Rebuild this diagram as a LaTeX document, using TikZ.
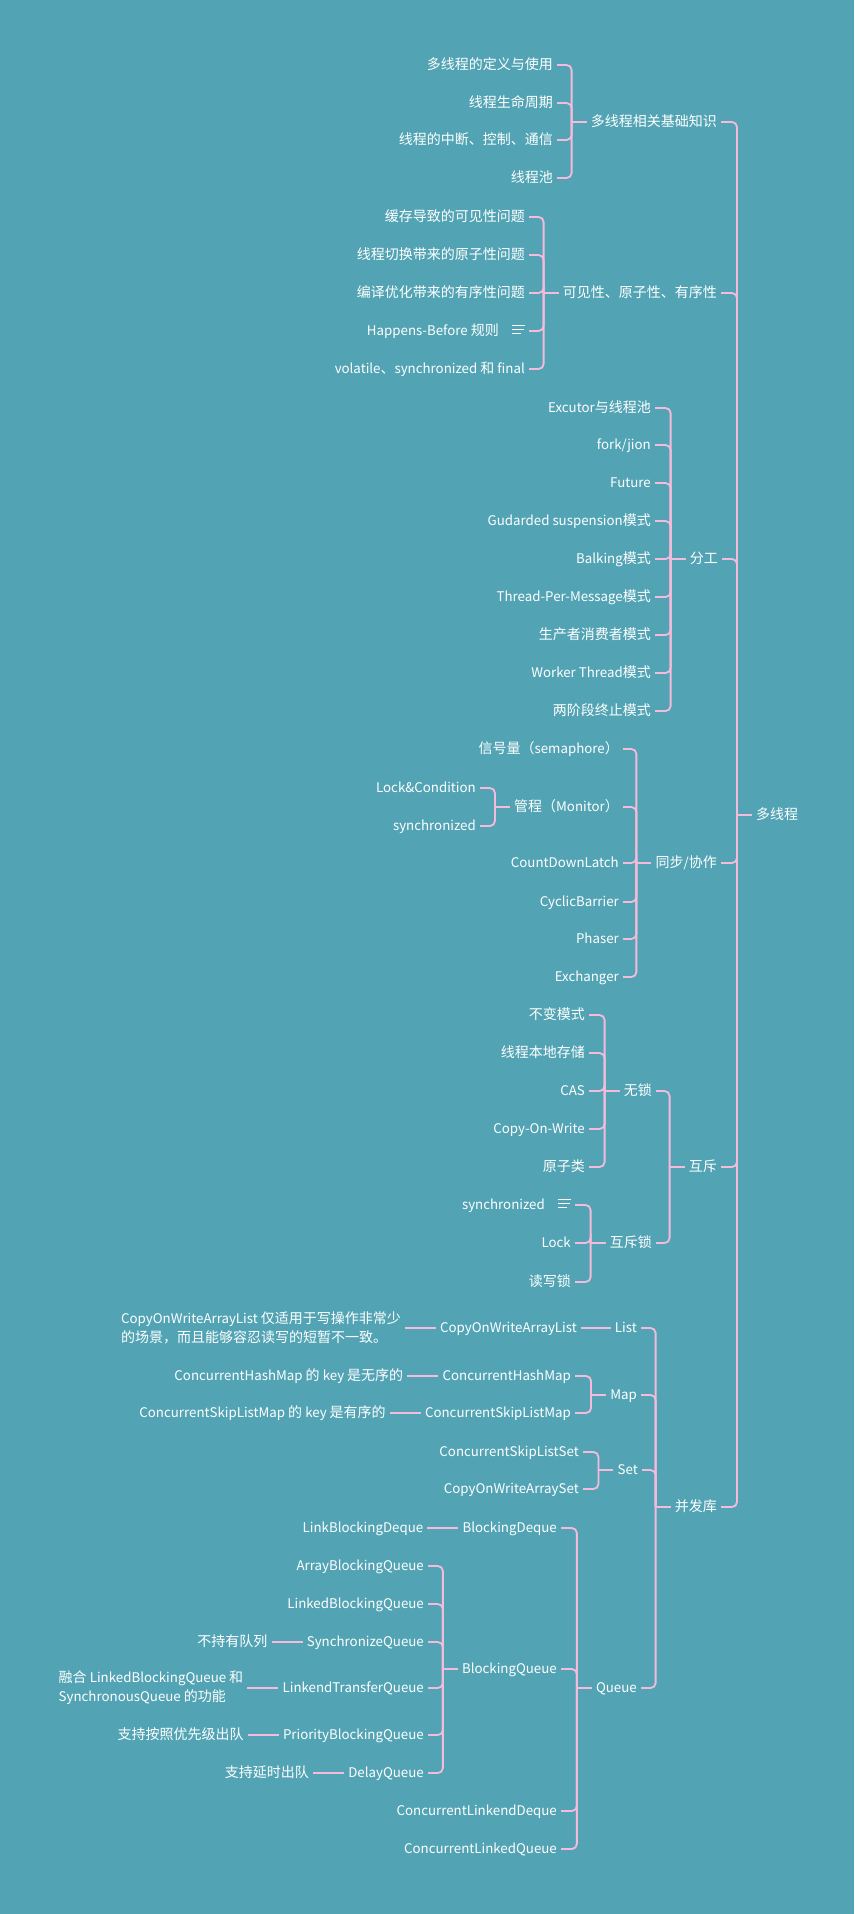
\documentclass[tikz,border=0pt]{standalone}
\usepackage{fontspec}
\setmainfont{Noto Sans CJK SC}[Scale=0.95]
\newfontfamily\latinfont{Noto Sans CJK SC}[Scale=0.95]
\newfontfamily\cjkfont{Noto Sans CJK SC}
% Latin runs a bit narrower than the CJK ones
\newXeTeXintercharclass\cjkcls
\makeatletter
\count@="3000 \loop\ifnum\count@<"3040 \XeTeXcharclass\count@=\cjkcls \advance\count@\@ne\repeat
\count@="4E00 \loop\ifnum\count@<"A000 \XeTeXcharclass\count@=\cjkcls \advance\count@\@ne\repeat
\count@="FF00 \loop\ifnum\count@<"FF60 \XeTeXcharclass\count@=\cjkcls \advance\count@\@ne\repeat
\makeatother
\XeTeXinterchartokenstate=1
\XeTeXinterchartoks 0 \cjkcls = {\cjkfont}
\XeTeXinterchartoks 4095 \cjkcls = {\cjkfont}
\XeTeXinterchartoks \cjkcls 0 = {\latinfont}
\XeTeXinterchartoks 4095 0 = {\latinfont}
\usetikzlibrary{positioning}
\definecolor{bgteal}{HTML}{52A4B5}
\definecolor{linkpink}{HTML}{F5BBDB}

% note marker drawn after some topics
\newcommand\noteicon{\hspace{13pt}\raisebox{1pt}{\vbox{\hrule width 13pt height 1.5pt\vskip 2.5pt
  \hrule width 12pt height 1.5pt\vskip 2.5pt\hrule width 9pt height 1.5pt}}}
% bracket from a parent to its children
\newcommand\branch[2]{%
  \draw[link] (#1.west) -- ++(-15,0);
  \foreach \c in {#2} \draw[link] (#1.west) ++(-15,0) |- (\c.east);
}

\begin{document}
\begin{tikzpicture}[x=1pt, y=-1pt,
  node distance=31pt,
  topic/.style={font=\fontsize{14}{17}\selectfont, text=white, inner xsep=4pt, inner ysep=0pt,
    text height=11.5pt, text depth=3pt},
  leaf/.style={topic, anchor=east},
  note/.style={font=\fontsize{14}{19}\selectfont, text=white, inner xsep=4pt, inner ysep=1pt, align=left},
  link/.style={draw=linkpink, line width=1.8pt, rounded corners=5pt}
]
\fill[bgteal] (0,0) rectangle (854,1914);
\useasboundingbox (0,0) rectangle (854,1914);

\node[topic, anchor=west] (root) at (752,815) {多线程};

\node[leaf] (basic) at (721,122) {多线程相关基础知识};
\node[leaf] (vis) at (721,293) {可见性、原子性、有序性};
\node[leaf] (div) at (722,559) {分工};
\node[leaf] (sync) at (721,863) {同步/协作};
\node[leaf] (mutex) at (721,1167) {互斥};
\node[leaf] (lib) at (721,1507) {并发库};

% basics
\node[leaf] (b1) at (557,65) {多线程的定义与使用};
\node[leaf] (b2) at (557,103) {线程生命周期};
\node[leaf] (b3) at (557,140) {线程的中断、控制、通信};
\node[leaf] (b4) at (557,178) {线程池};

% visibility
\node[leaf] (v1) at (529,217) {缓存导致的可见性问题};
\node[leaf] (v2) at (529,255) {线程切换带来的原子性问题};
\node[leaf] (v3) at (529,293) {编译优化带来的有序性问题};
\node[leaf] (v4) at (529,331) {Happens-Before 规则\noteicon};
\node[leaf] (v5) at (529,369) {volatile、synchronized 和 final};

% division of work
\node[leaf] (d1) at (655,408) {Excutor与线程池};
\node[leaf] (d2) at (655,445) {fork/jion};
\node[leaf] (d3) at (655,483) {Future};
\node[leaf] (d4) at (655,521) {Gudarded suspension模式};
\node[leaf] (d5) at (655,559) {Balking模式};
\node[leaf] (d6) at (655,597) {Thread-Per-Message模式};
\node[leaf] (d7) at (655,635) {生产者消费者模式};
\node[leaf] (d8) at (655,673) {Worker Thread模式};
\node[leaf] (d9) at (655,711) {两阶段终止模式};

% synchronisation
\node[leaf] (s1) at (623,749) {信号量（semaphore）};
\node[leaf] (mon) at (623,807) {管程（Monitor）};
\node[leaf] (s3) at (623,863) {CountDownLatch};
\node[leaf] (s4) at (623,902) {CyclicBarrier};
\node[leaf] (s5) at (623,939) {Phaser};
\node[leaf] (s6) at (623,977) {Exchanger};
\node[leaf] (m1) at (480,788) {Lock\&Condition};
\node[leaf] (m2) at (480,826) {synchronized};

% mutual exclusion
\node[leaf] (free) at (656,1091) {无锁};
\node[leaf] (lock) at (656,1243) {互斥锁};
\node[leaf] (f1) at (589,1015) {不变模式};
\node[leaf] (f2) at (589,1053) {线程本地存储};
\node[leaf] (f3) at (589,1091) {CAS};
\node[leaf] (f4) at (589,1129) {Copy-On-Write};
\node[leaf] (f5) at (589,1167) {原子类};
\node[leaf] (k1) at (575,1205) {synchronized\noteicon};
\node[leaf] (k2) at (575,1243) {Lock};
\node[leaf] (k3) at (575,1282) {读写锁};

% concurrent library
\node[leaf] (list) at (641,1328) {List};
\node[leaf] (map) at (641,1395) {Map};
\node[leaf] (set) at (642,1470) {Set};
\node[leaf] (queue) at (641,1688) {Queue};

\node[leaf] (cowal) at (581,1328) {CopyOnWriteArrayList};
\node[note, left=of cowal] (ncowal) {CopyOnWriteArrayList 仅适用于写操作非常少\\的场景，而且能够容忍读写的短暂不一致。};
\node[leaf] (chm) at (575,1376) {ConcurrentHashMap};
\node[topic, left=of chm] (nchm) {ConcurrentHashMap 的 key 是无序的};
\node[leaf] (cslm) at (575,1413) {ConcurrentSkipListMap};
\node[topic, left=of cslm] (ncslm) {ConcurrentSkipListMap 的 key 是有序的};
\node[leaf] (csls) at (583,1452) {ConcurrentSkipListSet};
\node[leaf] (cowas) at (583,1489) {CopyOnWriteArraySet};

\node[leaf] (bdq) at (561,1528) {BlockingDeque};
\node[topic, left=of bdq] (lbdq) {LinkBlockingDeque};
\node[leaf] (bq) at (561,1669) {BlockingQueue};
\node[leaf] (cld) at (561,1811) {ConcurrentLinkendDeque};
\node[leaf] (clq) at (561,1849) {ConcurrentLinkedQueue};

\node[leaf] (q1) at (428,1566) {ArrayBlockingQueue};
\node[leaf] (q2) at (428,1604) {LinkedBlockingQueue};
\node[leaf] (q3) at (428,1642) {SynchronizeQueue};
\node[leaf] (q4) at (428,1688) {LinkendTransferQueue};
\node[leaf] (q5) at (428,1735) {PriorityBlockingQueue};
\node[leaf] (q6) at (428,1773) {DelayQueue};
\node[topic, left=of q3] (nq3) {不持有队列};
\node[note, left=of q4] (nq4) {融合 LinkedBlockingQueue 和\\SynchronousQueue 的功能};
\node[topic, left=of q5] (nq5) {支持按照优先级出队};
\node[topic, left=of q6] (nq6) {支持延时出队};

\branch{root}{basic,vis,div,sync,mutex,lib}
\branch{basic}{b1,b2,b3,b4}
\branch{vis}{v1,v2,v3,v4,v5}
\branch{div}{d1,d2,d3,d4,d5,d6,d7,d8,d9}
\branch{sync}{s1,mon,s3,s4,s5,s6}
\branch{mon}{m1,m2}
\branch{mutex}{free,lock}
\branch{free}{f1,f2,f3,f4,f5}
\branch{lock}{k1,k2,k3}
\branch{lib}{list,map,set,queue}
\branch{map}{chm,cslm}
\branch{set}{csls,cowas}
\branch{queue}{bdq,bq,cld,clq}
\branch{bq}{q1,q2,q3,q4,q5,q6}

\foreach \a/\b in {cowal/list, ncowal/cowal, nchm/chm, ncslm/cslm, lbdq/bdq,
  nq3/q3, nq4/q4, nq5/q5, nq6/q6}
  \draw[link] (\a.east) -- (\b.west);
\end{tikzpicture}
\end{document}
